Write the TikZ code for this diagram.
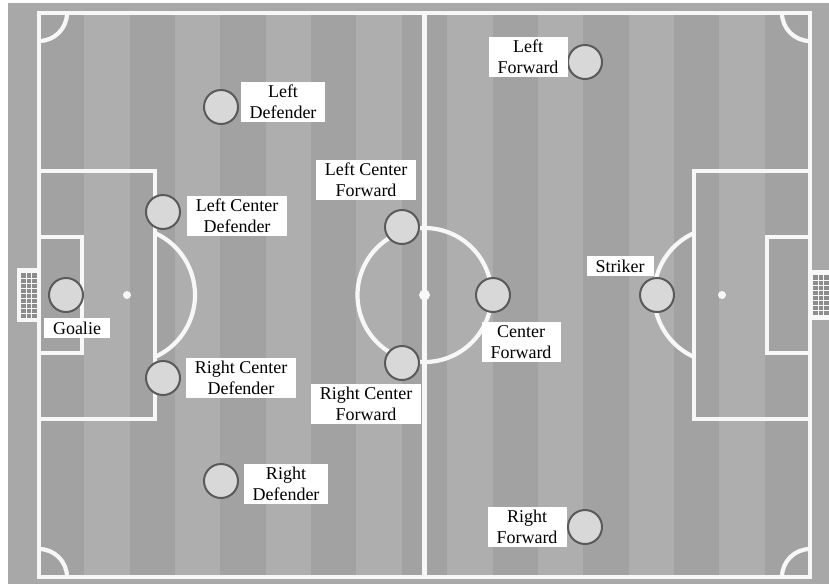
\documentclass[tikz,border=0pt]{standalone}
\usepackage{fontspec}
\setmainfont{Liberation Serif}
\definecolor{outergray}{HTML}{A8A8A8}
\definecolor{stripedark}{HTML}{A2A2A2}
\definecolor{stripelight}{HTML}{AEAEAE}
\definecolor{netgray}{HTML}{8C8C8C}
\definecolor{linewhite}{HTML}{F7F7F7}
\definecolor{playerfill}{HTML}{D8D8D8}
\definecolor{playerdraw}{HTML}{5A5A5A}
\begin{document}
\begin{tikzpicture}[x=1pt,y=-1pt,
  fieldline/.style={draw=linewhite, line width=4.2pt},
  player/.style={circle, draw=playerdraw, line width=2pt, fill=playerfill, minimum size=34pt, inner sep=0pt},
  lbl/.style={fill=white, text=black, align=center, inner xsep=9pt, inner ysep=3.5pt, font=\fontsize{18}{21}\selectfont},
  spot/.style={fill=linewhite}]
\useasboundingbox (0,0) rectangle (829,584);
\fill[white] (0,0) rectangle (829,584);
\fill[outergray] (8,3) rectangle (829,584);
% stripes
\foreach \i in {0,...,16}{
  \pgfmathsetmacro{\xa}{39+45.353*\i}
  \pgfmathsetmacro{\xb}{39+45.353*(\i+1)}
  \ifodd\i \def\sc{stripelight}\else \def\sc{stripedark}\fi
  \fill[\sc] (\xa,13) rectangle (\xb,577);
}
% goals
\fill[linewhite] (17,268) rectangle (39,322);
\fill[netgray] (21,273) rectangle (37,318);
\foreach \gx in {26.3,31.6} \draw[linewhite, line width=1pt] (\gx,273) -- (\gx,318);
\foreach \gy in {278,283,...,313} \draw[linewhite, line width=1pt] (21,\gy) -- (37,\gy);
\fill[linewhite] (810,270) rectangle (829,320);
\fill[netgray] (813,275) rectangle (829,315);
\foreach \gx in {818.3,823.6} \draw[linewhite, line width=1pt] (\gx,275) -- (\gx,315);
\foreach \gy in {280,285,...,310} \draw[linewhite, line width=1pt] (813,\gy) -- (829,\gy);
% field lines
\draw[fieldline] (39,13) rectangle (810,577);
\draw[fieldline] (424.5,13) -- (424.5,577);
\draw[fieldline] (424.5,295) circle[radius=67];
\draw[fieldline] (39,171) -- (155,171) -- (155,419) -- (39,419);
\draw[fieldline] (39,237) -- (82,237) -- (82,353) -- (39,353);
\draw[fieldline] (810,171) -- (694,171) -- (694,419) -- (810,419);
\draw[fieldline] (810,237) -- (767,237) -- (767,353) -- (810,353);
\draw[fieldline] (127,295) ++(-65.7:68) arc[start angle=-65.7, end angle=65.7, radius=68];
\draw[fieldline] (722,295) ++(114.3:68) arc[start angle=114.3, end angle=245.7, radius=68];
\draw[fieldline] (39,13) ++(0:28) arc[start angle=0, end angle=90, radius=28];
\draw[fieldline] (810,13) ++(90:28) arc[start angle=90, end angle=180, radius=28];
\draw[fieldline] (39,577) ++(-90:28) arc[start angle=-90, end angle=0, radius=28];
\draw[fieldline] (810,577) ++(180:28) arc[start angle=180, end angle=270, radius=28];
\fill[spot] (424.5,295) circle[radius=5.5];
\fill[spot] (127,295) circle[radius=4];
\fill[spot] (722,295) circle[radius=4];
% players
\node[player] (gk) at (66,295) {};
\node[player] (ld) at (221,107) {};
\node[player] (lcd) at (163,212) {};
\node[player] (rcd) at (163,378) {};
\node[player] (rd) at (221,481) {};
\node[player] (lcf) at (402,227) {};
\node[player] (rcf) at (402,363) {};
\node[player] (cf) at (493,295) {};
\node[player] (st) at (657,295) {};
\node[player] (lf) at (585,62) {};
\node[player] (rf) at (585,527) {};
% labels
\node[lbl] (gkl) at (77,328) {Goalie};
\node[lbl] (ldl) at (283,102) {Left\\Defender};
\node[lbl] (lcdl) at (237,216) {Left Center\\Defender};
\node[lbl] (rcdl) at (241,378) {Right Center\\Defender};
\node[lbl] (rdl) at (286,484) {Right\\Defender};
\node[lbl] (lcfl) at (366,180) {Left Center\\Forward};
\node[lbl] (rcfl) at (366,404) {Right Center\\Forward};
\node[lbl] (cfl) at (521,342) {Center\\Forward};
\node[lbl] (stl) at (620,266) {Striker};
\node[lbl] (lfl) at (528,57) {Left\\Forward};
\node[lbl] (rfl) at (527,527) {Right\\Forward};
\end{tikzpicture}
\end{document}
